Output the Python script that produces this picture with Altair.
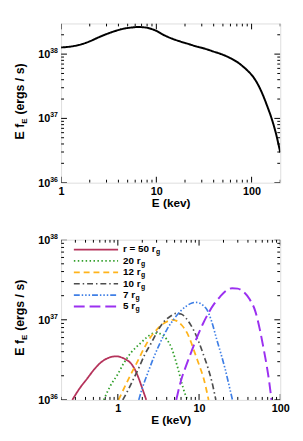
import altair as alt
import pandas as pd

FONT = "Liberation Sans"

# ---------------- top panel data ----------------
top_E = [1, 1.3, 1.66, 2.0, 2.47, 3.0, 3.67, 4.5, 5.45, 6.4, 7.2, 8.1, 10, 12, 14.5, 17.9,
         22, 26.6, 32, 39.5, 48, 58.6, 70, 80.5, 90, 102, 115, 130, 146, 164, 182, 200]
top_F = [1.27e38, 1.32e38, 1.43e38, 1.58e38, 1.82e38, 2.05e38, 2.28e38, 2.48e38, 2.59e38,
         2.64e38, 2.62e38, 2.56e38, 2.30e38, 1.98e38, 1.75e38, 1.57e38, 1.43e38, 1.31e38,
         1.22e38, 1.10e38, 1.0e38, 8.8e37, 7.6e37, 6.5e37, 5.6e37, 4.6e37, 3.5e37, 2.4e37,
         1.55e37, 9.5e36, 5.5e36, 2.95e36]

# ---------------- bottom panel data ----------------
r50_E = [0.275, 0.34, 0.42, 0.52, 0.61, 0.72, 0.84, 0.95, 1.08, 1.25, 1.43, 1.62, 1.81, 2.02, 2.24]
r50_F = [1e36, 1.4e36, 1.85e36, 2.45e36, 2.9e36, 3.25e36, 3.45e36, 3.5e36, 3.42e36, 3.2e36,
         2.9e36, 2.4e36, 1.85e36, 1.35e36, 1e36]
r20_E = [0.67, 0.81, 1.0, 1.19, 1.46, 1.9, 2.3, 2.8, 3.3, 4.0, 4.6, 5.1, 5.6, 6.15, 6.7, 7.3]
r20_F = [1e36, 1.5e36, 2.1e36, 2.9e36, 3.9e36, 5.1e36, 6.1e36, 6.8e36, 6.7e36, 5.7e36, 4.4e36,
         3.2e36, 2.3e36, 1.6e36, 1.2e36, 1e36]
r12_E = [1.02, 1.19, 1.45, 1.73, 2.1, 2.51, 3.0, 3.6, 4.2, 4.7, 5.3, 6.1, 7.1, 8.0, 8.96, 10.2,
         11.4, 13.1]
r12_F = [1e36, 1.39e36, 2.1e36, 2.96e36, 4.4e36, 6.0e36, 7.5e36, 8.9e36, 9.7e36, 1.0e37, 9.7e36,
         8.6e36, 6.9e36, 5.2e36, 3.75e36, 2.6e36, 1.85e36, 1e36]
r10_E = [1.15, 1.35, 1.57, 1.81, 2.15, 2.6, 3.1, 3.67, 4.4, 5.2, 6.0, 6.9, 7.7, 8.6, 10.0, 11.4,
         12.9, 14.4, 16.1]
r10_F = [1e36, 1.35e36, 1.85e36, 2.5e36, 3.7e36, 5.2e36, 7.3e36, 9.4e36, 1.1e37, 1.2e37, 1.18e37,
         1.05e37, 9.0e36, 7.4e36, 5.2e36, 3.6e36, 2.5e36, 1.68e36, 1e36]
r7_E = [1.81, 2.0, 2.35, 2.77, 3.3, 4.03, 4.9, 5.9, 7.1, 8.2, 9.2, 10.4, 11.5, 12.5, 14.3, 16.5,
        18.7, 20.9, 23.3, 25.8]
r7_F = [1e36, 1.4e36, 2.2e36, 3.4e36, 5.1e36, 7.6e36, 1.02e37, 1.28e37, 1.5e37, 1.62e37, 1.65e37,
        1.6e37, 1.48e37, 1.34e37, 9.5e36, 5.7e36, 3.7e36, 2.46e36, 1.55e36, 1e36]
r5_E = [5.24, 6.0, 7.08, 8.2, 9.4, 11.1, 13.1, 15.5, 18.2, 21.5, 25.5, 30, 35, 42, 49, 56, 62,
        68, 73, 78]
r5_F = [1e36, 1.75e36, 2.83e36, 4.2e36, 6.0e36, 8.8e36, 1.22e37, 1.6e37, 1.95e37, 2.3e37,
        2.48e37, 2.45e37, 2.25e37, 1.8e37, 1.3e37, 7.6e36, 4.5e36, 2.7e36, 1.7e36, 1e36]

legend_labels = ["r = 50 r", "20 r", "12 r", "10 r", "7 r", "5 r"]
colors = ["#B5335B", "#33A02C", "#FFB31A", "#4D4D4D", "#3F7FE6", "#9B30F0"]
dashes = [[1, 0], [1.5, 2.5], [6, 4], [6, 3, 1.5, 3], [6, 2, 1.5, 2, 1.5, 2, 1.5, 2], [11, 5]]
widths = [1.8, 1.8, 1.8, 1.7, 1.7, 2.0]
series_E = [r50_E, r20_E, r12_E, r10_E, r7_E, r5_E]
series_F = [r50_F, r20_F, r12_F, r10_F, r7_F, r5_F]

ylab_vals = [1e36, 1e37, 1e38]
ylab_exp = ["36", "37", "38"]

W = 223
H1 = 162
H2 = 163

# bold Liberation Sans widths (em)
CW = {"r": 0.389, " ": 0.278, "=": 0.584, "E": 0.667, "f": 0.333}
for d in "0123456789":
    CW[d] = 0.556


def text_width(s, size):
    return sum(CW.get(c, 0.556) for c in s) * size


def panel(curves, xdom, ydom, xmajor, xminor, yminor, xtitle, H):
    xs = alt.Scale(type="log", domain=xdom, nice=False)
    ys = alt.Scale(type="log", domain=ydom, nice=False)
    xaxis = alt.Axis(values=xmajor, format="~g", ticks=False, domain=False, grid=False,
                     labelFont=FONT, labelFontSize=11, labelFontWeight="bold",
                     labelColor="black", labelPadding=3, labelFlush=False,
                     title=xtitle, titleFont=FONT, titleFontSize=12, titleFontWeight="bold",
                     titleColor="black", titlePadding=1)
    layers = []
    for (E, F, col, dash, sw) in curves:
        df = pd.DataFrame({"E": E, "F": F})
        layers.append(
            alt.Chart(df).mark_line(color=col, strokeDash=dash, strokeWidth=sw,
                                    interpolate="monotone", clip=True)
            .encode(x=alt.X("E:Q", scale=xs, axis=xaxis),
                    y=alt.Y("F:Q", scale=ys, axis=None))
        )
    # inside ticks
    ymaj = pd.DataFrame({"v": ylab_vals})
    ymin = pd.DataFrame({"v": yminor})
    xmaj = pd.DataFrame({"v": xmajor})
    xmin = pd.DataFrame({"v": xminor})
    for df, ln in [(ymaj, 6), (ymin, 3)]:
        layers.append(alt.Chart(df).mark_rule(color="black", strokeWidth=1, clip=True).encode(
            y=alt.Y("v:Q", scale=ys, axis=None), x=alt.value(0), x2=alt.value(ln)))
        layers.append(alt.Chart(df).mark_rule(color="black", strokeWidth=1, clip=True).encode(
            y=alt.Y("v:Q", scale=ys, axis=None), x=alt.value(W - ln), x2=alt.value(W)))
    for df, ln in [(xmaj, 6), (xmin, 3)]:
        layers.append(alt.Chart(df).mark_rule(color="black", strokeWidth=1, clip=True).encode(
            x=alt.X("v:Q", scale=xs, axis=xaxis), y=alt.value(H), y2=alt.value(H - ln)))
        layers.append(alt.Chart(df).mark_rule(color="black", strokeWidth=1, clip=True).encode(
            x=alt.X("v:Q", scale=xs, axis=xaxis), y=alt.value(0), y2=alt.value(ln)))
    # y labels 10^n
    ylab = pd.DataFrame({"v": ylab_vals, "base": ["10"] * 3, "exp": ylab_exp})
    layers.append(alt.Chart(ylab).mark_text(align="right", baseline="middle", font=FONT,
                                            fontSize=11, fontWeight="bold", color="black", dy=1)
                  .encode(y=alt.Y("v:Q", scale=ys, axis=None), x=alt.value(-11),
                          text="base:N"))
    layers.append(alt.Chart(ylab).mark_text(align="left", baseline="middle", font=FONT,
                                            fontSize=7, fontWeight="bold", color="black", dy=-3)
                  .encode(y=alt.Y("v:Q", scale=ys, axis=None), x=alt.value(-11),
                          text="exp:N"))
    # y title: E f_E (ergs / s), rotated
    one = pd.DataFrame({"a": [0]})
    y0 = 118
    fs = 12.5
    w1 = text_width("E f", fs)
    w2 = text_width("E", 8) + 0.5
    gap = 0.278 * fs
    parts = [("E f", fs, y0, -38), ("E", 8, y0 - w1, -35),
             ("(ergs / s)", fs, y0 - w1 - w2 - gap, -38)]
    for txt, size, yy, xx in parts:
        layers.append(alt.Chart(one).mark_text(angle=270, align="left", baseline="alphabetic",
                                               font=FONT, fontSize=size, fontWeight="bold",
                                               color="black")
                      .encode(x=alt.value(xx), y=alt.value(yy), text=alt.value(txt)))
    return layers


top_layers = panel([(top_E, top_F, "black", [1, 0], 2)], [1, 200], [1e36, 3e38],
                   [1, 10, 100],
                   [2, 3, 4, 5, 6, 7, 8, 9, 20, 30, 40, 50, 60, 70, 80, 90, 200],
                   [2e36, 3e36, 4e36, 5e36, 6e36, 7e36, 8e36, 9e36,
                    2e37, 3e37, 4e37, 5e37, 6e37, 7e37, 8e37, 9e37, 2e38],
                   "E (kev)", H1)
top = alt.layer(*top_layers).properties(width=W, height=H1)

bot_curves = [(series_E[i], series_F[i], colors[i], dashes[i], widths[i]) for i in range(6)]
bot_layers = panel(bot_curves, [0.2, 100], [1e36, 1e38],
                   [1, 10, 100],
                   [0.2, 0.3, 0.4, 0.5, 0.6, 0.7, 0.8, 0.9, 2, 3, 4, 5, 6, 7, 8, 9,
                    20, 30, 40, 50, 60, 70, 80, 90],
                   [2e36, 3e36, 4e36, 5e36, 6e36, 7e36, 8e36, 9e36,
                    2e37, 3e37, 4e37, 5e37, 6e37, 7e37, 8e37, 9e37],
                   "E (keV)", H2)

# legend (manual)
one = pd.DataFrame({"a": [0]})
for i in range(6):
    yy = 10 + 11.6 * i
    bot_layers.append(alt.Chart(one).mark_rule(color=colors[i], strokeDash=dashes[i],
                                               strokeWidth=widths[i])
                      .encode(x=alt.value(13), x2=alt.value(58), y=alt.value(yy)))
    bot_layers.append(alt.Chart(one).mark_text(align="left", baseline="middle", font=FONT,
                                               fontSize=10, fontWeight="bold", color="black")
                      .encode(x=alt.value(63), y=alt.value(yy), text=alt.value(legend_labels[i])))
    gx = 63 + text_width(legend_labels[i], 10) + 0.5
    bot_layers.append(alt.Chart(one).mark_text(align="left", baseline="middle", font=FONT,
                                               fontSize=7, fontWeight="bold", color="black",
                                               dy=3)
                      .encode(x=alt.value(gx), y=alt.value(yy), text=alt.value("g")))

bottom = alt.layer(*bot_layers).properties(width=W, height=H2)

chart = (alt.vconcat(top, bottom, spacing=58, bounds="flush")
         .properties(padding={"left": 5, "top": 11, "right": 5, "bottom": 5})
         .configure_view(stroke="black", strokeWidth=1.2)
         .configure(font=FONT))

chart.save("out.html", embed_options={"renderer": "svg", "actions": False})
